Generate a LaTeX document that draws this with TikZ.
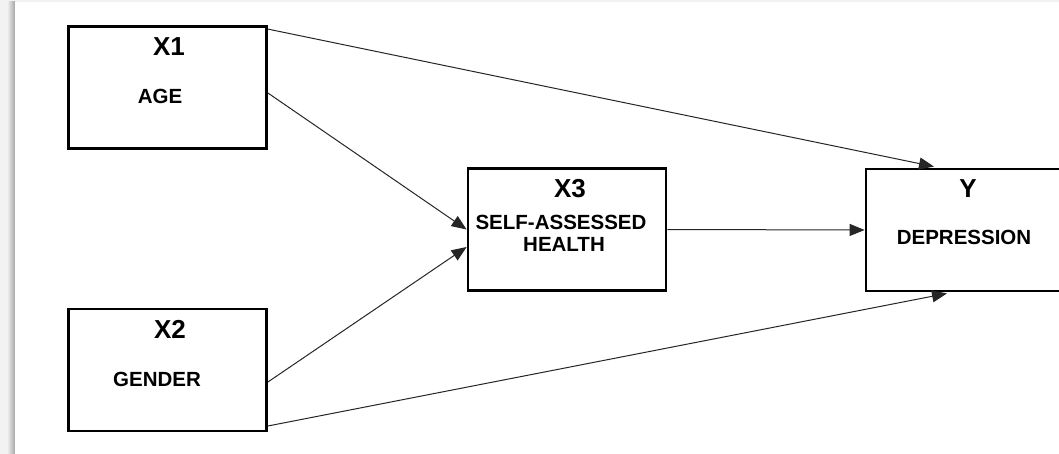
\documentclass[tikz,border=0pt]{standalone}
\usepackage{fontspec}
\setmainfont{Liberation Sans}
\usetikzlibrary{arrows.meta,calc}
\begin{document}
\begin{tikzpicture}[x=1pt,y=-1pt,
  varbox/.style={draw=black,line width=2.8pt,fill=white,minimum width=198pt,minimum height=122pt,inner sep=0pt},
  ttl/.style={font=\fontsize{26}{28}\selectfont\bfseries,inner sep=0pt,text=black},
  lbl/.style={font=\fontsize{20.5}{23}\selectfont\bfseries,inner sep=0pt,text=black,align=center},
  conn/.style={draw=black!85,line width=1pt,-{Triangle[length=15pt,width=12pt]}}]
\useasboundingbox (0,0) rectangle (1059,454);
\clip (0,0) rectangle (1059,454);
% page background and shadow
\fill[black!5] (0,0) rectangle (1059,454);
\shade[left color=black!5,right color=black!35] (7,2) rectangle (15,454);
\fill[white] (15,2) rectangle (1059,454);
% boxes
\node[varbox] (x1) at (167.5,87.5) {};
\node[varbox] (x2) at (167.5,370) {};
\node[varbox] (x3) at (567,229.5) {};
\node[varbox] (y) at (965,230) {};
% texts
\node[ttl] (x1t) at (169,47) {X1};
\node[lbl] (x1l) at (160,96) {AGE};
\node[ttl] (x2t) at (170,329) {X2};
\node[lbl] (x2l) at (157,379) {GENDER};
\node[ttl] (x3t) at (570,189) {X3};
\node[lbl] (x3l) at (561,222) {SELF-ASSESSED};
\node[lbl] (x3m) at (564,244) {HEALTH};
\node[ttl] (yt) at (968,189) {Y};
\node[lbl] (yl) at (964,237) {DEPRESSION};
% connectors
\draw[conn] ([yshift=-4pt]x1.north east) -- ([xshift=-31pt,yshift=1pt]y.north);
\draw[conn] ([yshift=-5.5pt]x1.east) -- (x3.west);
\draw[conn] ([yshift=-12pt]x2.east) -- ([yshift=-17.5pt]x3.west);
\draw[conn] ([yshift=-56pt]x2.east) -- ([xshift=-18pt,yshift=-1pt]y.south);
\draw[conn] (x3.east) -- (y.west);
\end{tikzpicture}
\end{document}
